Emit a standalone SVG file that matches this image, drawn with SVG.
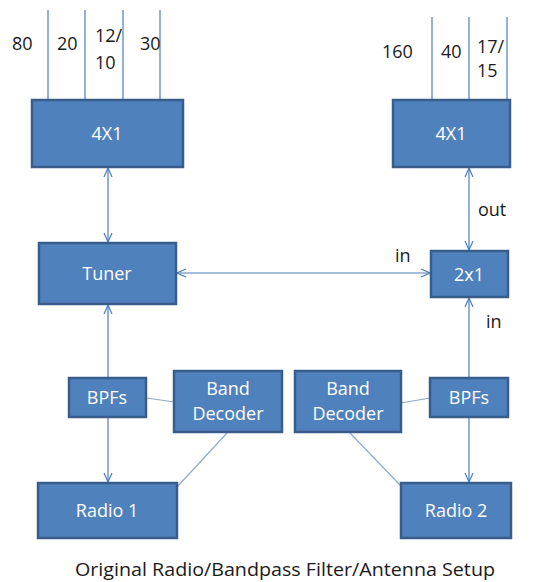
<svg xmlns="http://www.w3.org/2000/svg" width="536" height="582" viewBox="0 0 536 582">
<defs>
<style>
.box{fill:#4F81BD;stroke:#385D8A;stroke-width:2.5}
.bt{fill:#FFFFFF;font-family:"Open Sans","Noto Sans",sans-serif;font-size:18px;text-anchor:middle}
.lb{fill:#1a1a1a;font-family:"Open Sans","Noto Sans",sans-serif;font-size:18px}
.ln{stroke:#4A7EBB;stroke-width:1.2;fill:none}
.pl{stroke:#8EA9CF;stroke-width:1.2;fill:none}
</style>
<marker id="ah" viewBox="0 0 10 10" refX="10" refY="5" markerWidth="10" markerHeight="10" markerUnits="userSpaceOnUse" orient="auto-start-reverse">
<path d="M1,1 L10,5 L1,9" fill="none" stroke="#4A7EBB" stroke-width="1.2"/>
</marker>
</defs>
<rect width="536" height="582" fill="#FFFFFF"/>
<g id="connectors">
<line class="ln" x1="48" y1="10" x2="48" y2="100"/>
<line class="ln" x1="85" y1="10" x2="85" y2="100"/>
<line class="ln" x1="123" y1="10" x2="123" y2="100"/>
<line class="ln" x1="160" y1="10" x2="160" y2="100"/>
<line class="ln" x1="432" y1="17" x2="432" y2="100"/>
<line class="ln" x1="469" y1="17" x2="469" y2="100"/>
<line class="ln" x1="507" y1="17" x2="507" y2="100"/>
<line class="ln" x1="108" y1="168" x2="108" y2="242" marker-start="url(#ah)" marker-end="url(#ah)"/>
<line class="ln" x1="469" y1="168" x2="469" y2="250" marker-start="url(#ah)" marker-end="url(#ah)"/>
<line class="ln" x1="177" y1="273" x2="430" y2="273" marker-start="url(#ah)" marker-end="url(#ah)"/>
<line class="ln" x1="108" y1="305" x2="108" y2="378" marker-start="url(#ah)"/>
<line class="ln" x1="469" y1="378" x2="469" y2="298" marker-end="url(#ah)"/>
<line class="ln" x1="108" y1="418" x2="108" y2="482" marker-end="url(#ah)"/>
<line class="ln" x1="469" y1="418" x2="469" y2="482" marker-end="url(#ah)"/>
<line class="pl" x1="147" y1="398" x2="174" y2="402"/>
<line class="pl" x1="401" y1="403" x2="430" y2="398"/>
<line class="pl" x1="227" y1="433" x2="177" y2="487"/>
<line class="pl" x1="350" y1="433" x2="401" y2="486"/>
</g>
<g id="labels">
<text class="lb" x="12" y="50">80</text>
<text class="lb" x="57" y="50">20</text>
<text class="lb" x="95" y="42">12/</text>
<text class="lb" x="95" y="69">10</text>
<text class="lb" x="140" y="50">30</text>
<text class="lb" x="382" y="58">160</text>
<text class="lb" x="441" y="58">40</text>
<text class="lb" x="477" y="53">17/</text>
<text class="lb" x="477" y="77">15</text>
<text class="lb" x="478" y="216">out</text>
<text class="lb" x="395" y="262">in</text>
<text class="lb" x="486" y="328">in</text>
</g>
<g id="mux1"><rect class="box" x="32" y="100" width="151" height="67"/><text class="bt" x="107" y="140">4X1</text></g>
<g id="mux2"><rect class="box" x="393" y="100" width="117" height="67"/><text class="bt" x="451" y="140">4X1</text></g>
<g id="tuner"><rect class="box" x="39" y="243" width="137" height="61"/><text class="bt" x="107" y="280">Tuner</text></g>
<g id="sw2x1"><rect class="box" x="431" y="251" width="77" height="46"/><text class="bt" x="469" y="281">2x1</text></g>
<g id="bpf1"><rect class="box" x="69" y="378" width="77" height="39"/><text class="bt" x="107" y="404">BPFs</text></g>
<g id="bd1"><rect class="box" x="174" y="371" width="108" height="61"/><text class="bt" x="228" y="395">Band</text><text class="bt" x="228" y="420">Decoder</text></g>
<g id="bd2"><rect class="box" x="295" y="371" width="106" height="61"/><text class="bt" x="348" y="395">Band</text><text class="bt" x="348" y="420">Decoder</text></g>
<g id="bpf2"><rect class="box" x="430" y="378" width="78" height="39"/><text class="bt" x="469" y="404">BPFs</text></g>
<g id="radio1"><rect class="box" x="38" y="483" width="139" height="55"/><text class="bt" x="107" y="517">Radio 1</text></g>
<g id="radio2"><rect class="box" x="401" y="483" width="110" height="55"/><text class="bt" x="456" y="517">Radio 2</text></g>
<text class="lb" x="285" y="576" text-anchor="middle" font-size="19" textLength="420" lengthAdjust="spacingAndGlyphs">Original Radio/Bandpass Filter/Antenna Setup</text>
</svg>
